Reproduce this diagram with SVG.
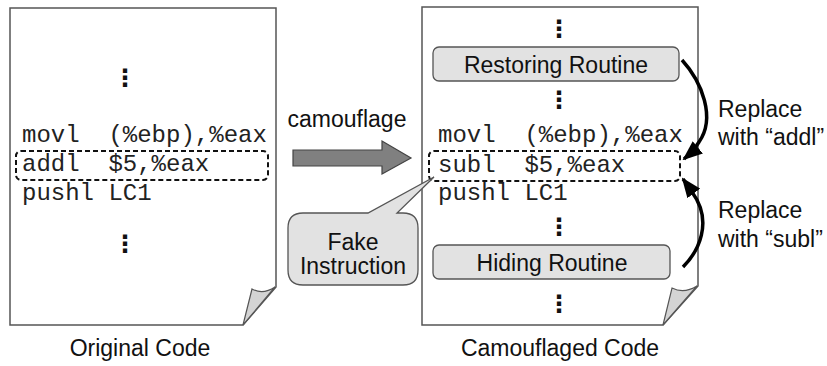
<svg xmlns="http://www.w3.org/2000/svg" width="827" height="366" viewBox="0 0 827 366">
<defs>
<style>
.page{fill:#fff;stroke:#555;stroke-width:1.5}
.fold{fill:#d4d4d4;stroke:#555;stroke-width:1.2}
.code{font-family:"Liberation Mono","Courier New",monospace;font-size:24px;fill:#222}
.lbl{font-family:"Liberation Sans",Arial,sans-serif;font-size:23px;fill:#111}
.dots{font-family:"DejaVu Sans",sans-serif;font-size:24px;font-weight:bold;fill:#111;text-anchor:middle}
.dash{fill:none;stroke:#111;stroke-width:2;stroke-dasharray:5,3}
.box{fill:#e2e2e2;stroke:#555;stroke-width:1.3}
.curve{fill:none;stroke:#000;stroke-width:3.5}
</style>
<marker id="ah" markerUnits="userSpaceOnUse" markerWidth="20" markerHeight="16" viewBox="0 0 20 16" refX="18" refY="8" orient="auto">
<path d="M0,0 L20,8 L0,16 Z" fill="#000"/>
</marker>
</defs>
<g id="original">
<path class="page" d="M10,8 H276 V287 L243,325 H10 Z"/>
<path class="fold" d="M252,289 Q263,295 275,287 L243,325 Z"/>
<text class="dots" x="125" y="86">⋮</text>
<text class="code" x="22" y="142" xml:space="preserve">movl  (%ebp),%eax</text>
<rect class="dash" x="16" y="151" width="252" height="29" rx="5"/>
<text class="code" x="22" y="171" xml:space="preserve">addl  $5,%eax</text>
<text class="code" x="22" y="200">pushl LC1</text>
<text class="dots" x="125" y="252">⋮</text>
<text class="lbl" x="140" y="356" text-anchor="middle">Original Code</text>
</g>
<g id="camouflaged">
<path class="page" d="M422,7 H698 V286 L663,325 H422 Z"/>
<path class="fold" d="M672,288 Q684,294 697,286 L663,325 Z"/>
<text class="dots" x="559" y="37">⋮</text>
<g id="restoring">
<rect class="box" x="433" y="47" width="246" height="34" rx="6"/>
<text class="lbl" x="556" y="73" text-anchor="middle">Restoring Routine</text>
</g>
<text class="dots" x="559" y="108">⋮</text>
<text class="code" x="438" y="142" xml:space="preserve">movl  (%ebp),%eax</text>
<rect class="dash" x="429" y="151" width="251" height="30" rx="5"/>
<text class="code" x="438" y="172" xml:space="preserve">subl  $5,%eax</text>
<text class="code" x="438" y="200">pushl LC1</text>
<text class="dots" x="559" y="235">⋮</text>
<g id="hiding">
<rect class="box" x="433" y="245" width="237" height="34" rx="6"/>
<text class="lbl" x="552" y="271" text-anchor="middle">Hiding Routine</text>
</g>
<text class="dots" x="559" y="312">⋮</text>
<text class="lbl" x="560" y="356" text-anchor="middle">Camouflaged Code</text>
</g>
<g id="fake">
<path class="box" d="M303,213 H368 L434,177 L397,213 H403 Q418,213 418,228 V270 Q418,285 403,285 H303 Q288,285 288,270 V228 Q288,213 303,213 Z"/>
<text class="lbl" x="353" y="250" text-anchor="middle">Fake</text>
<text class="lbl" x="353" y="274" text-anchor="middle">Instruction</text>
</g>
<g id="camouflage-arrow">
<path d="M293,150 H382 V141 L411,158 L382,174 V166 H293 Z" fill="#808080" stroke="#444" stroke-width="1.2"/>
<text class="lbl" x="347" y="127" text-anchor="middle">camouflage</text>
</g>
<g id="connectors">
<path class="curve" d="M682,60 C702,82 716,118 699,142 C694,150 690,154 684,159" marker-end="url(#ah)"/>
<path class="curve" d="M683,267 C698,252 714,222 692,192 C689,187 686,183 683,179" marker-end="url(#ah)"/>
</g>
<g id="labels">
<text class="lbl" x="718" y="117">Replace</text>
<text class="lbl" x="718" y="145">with “addl”</text>
<text class="lbl" x="718" y="218">Replace</text>
<text class="lbl" x="718" y="247">with “subl”</text>
</g>
</svg>
